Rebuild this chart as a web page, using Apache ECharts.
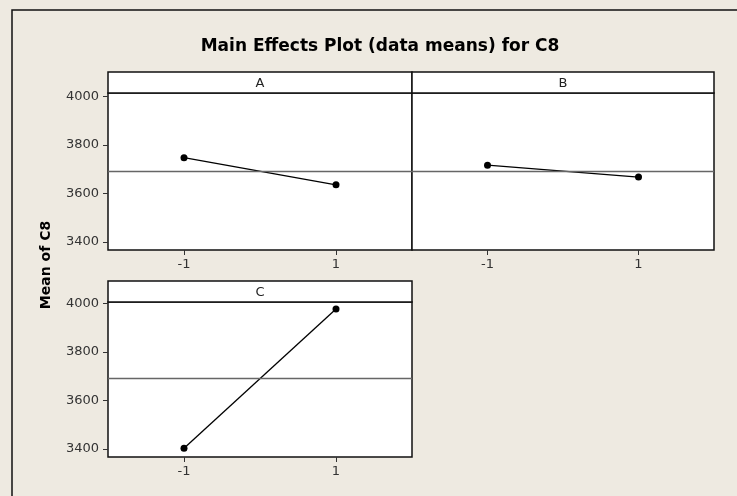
<!DOCTYPE html>
<html>
<head>
<meta charset="utf-8">
<script src="https://cdn.jsdelivr.net/npm/echarts@6/dist/echarts.min.js"></script>
<style>html,body{margin:0;padding:0;background:#EEEAE1;}#c{width:737px;height:496px;}</style>
</head>
<body>
<div id="c"></div>
<script>
const chartTitle = 'Main Effects Plot (data means) for C8';
const yAxisTitle = 'Mean of C8';
const levels = ['-1', '1'];
const factors = ['A', 'B', 'C'];
const meansA = [3747, 3635];
const meansB = [3716, 3667];
const meansC = [3402, 3978];
const grandMean = 3691;
const yTicks = [3400, 3600, 3800, 4000];

const seriesData = [meansA, meansB, meansC];
const panels = [
  {left: 108, top: 93, width: 304, height: 157, ymin: 3366, ymax: 4014, showY: true},
  {left: 412, top: 93, width: 302, height: 157, ymin: 3366, ymax: 4014, showY: false},
  {left: 108, top: 302, width: 304, height: 155, ymin: 3366, ymax: 4007, showY: true}
];
const stripH = 21;
const font = '"DejaVu Sans", Verdana, sans-serif';

const grid = [], xAxis = [], yAxis = [], series = [], graphic = [];
graphic.push({type: 'rect', shape: {x: 12, y: 10, width: 800, height: 600},
  style: {fill: '#EEEAE1', stroke: '#111', lineWidth: 1.5}, z: -10, silent: true});
panels.forEach((p, i) => {
  grid.push({left: p.left, top: p.top, width: p.width, height: p.height, show: true,
    backgroundColor: '#fff', borderColor: '#111', borderWidth: 1.5});
  xAxis.push({type: 'category', gridIndex: i, data: levels, boundaryGap: true,
    axisLine: {show: false}, axisTick: {show: true, alignWithLabel: true, length: 5, lineStyle: {color: '#333'}},
    axisLabel: {color: '#333', fontSize: 13, fontFamily: font, margin: 8}, splitLine: {show: false}});
  yAxis.push({type: 'value', gridIndex: i, min: p.ymin, max: p.ymax, scale: true,
    axisLine: {show: false}, splitLine: {show: false},
    axisTick: {show: p.showY, length: 5, customValues: yTicks, lineStyle: {color: '#333'}},
    axisLabel: {show: p.showY, customValues: yTicks, formatter: v => String(v),
      color: '#333', fontSize: 13, fontFamily: font, margin: 9}});
  series.push({type: 'line', xAxisIndex: i, yAxisIndex: i, data: seriesData[i],
    symbol: 'circle', symbolSize: 7, itemStyle: {color: '#000'}, lineStyle: {color: '#000', width: 1.3},
    silent: true, animation: false,
    markLine: {silent: true, symbol: 'none', label: {show: false}, animation: false,
      lineStyle: {color: '#666', width: 1.4, type: 'solid'}, data: [{yAxis: grandMean}]}});
  graphic.push({type: 'rect', shape: {x: p.left, y: p.top - stripH, width: p.width, height: stripH},
    style: {fill: '#fff', stroke: '#111', lineWidth: 1.5}, z: 10, silent: true});
  graphic.push({type: 'text', x: p.left + p.width / 2, y: p.top - stripH / 2 + 1,
    style: {text: factors[i], fill: '#222', font: '13px ' + font, textAlign: 'center', textVerticalAlign: 'middle'}, z: 11, silent: true});
});
graphic.push({type: 'text', x: 46, y: 265, rotation: Math.PI / 2,
  style: {text: yAxisTitle, fill: '#000', font: 'bold 14px ' + font, textAlign: 'center', textVerticalAlign: 'middle'}, z: 11, silent: true});
graphic.push({type: 'text', x: 380, y: 47,
  style: {text: chartTitle, fill: '#000', font: 'bold 17px ' + font, textAlign: 'center', textVerticalAlign: 'middle'}, z: 11, silent: true});

const chart = echarts.init(document.getElementById('c'), null, {renderer: 'canvas'});
chart.setOption({
  backgroundColor: '#EEEAE1',
  animation: false,
  grid, xAxis, yAxis, series, graphic
});
</script>
</body>
</html>
